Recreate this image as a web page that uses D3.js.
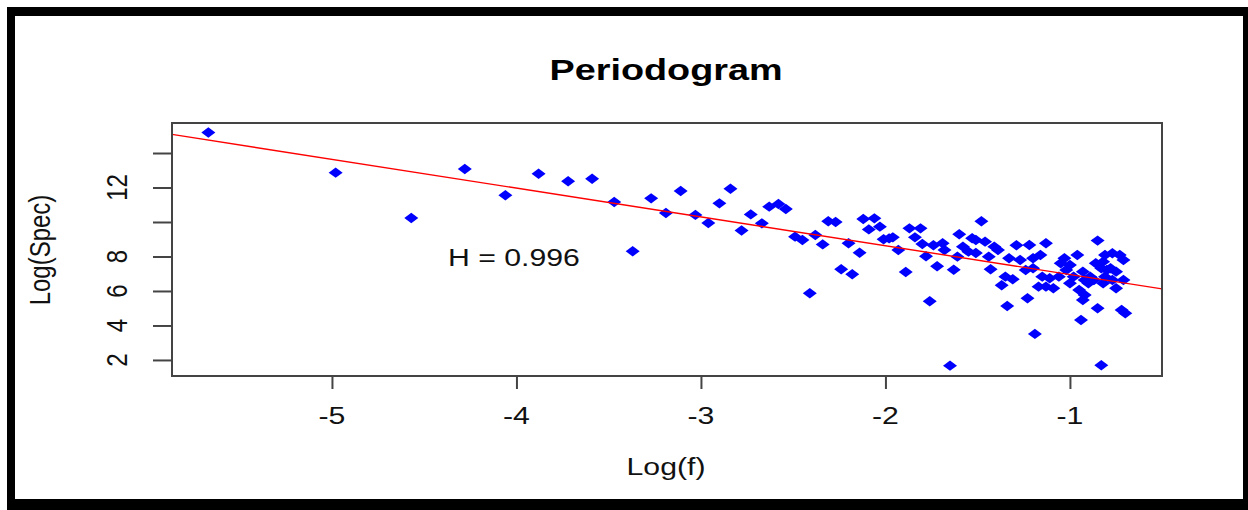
<!DOCTYPE html>
<html>
<head>
<meta charset="utf-8">
<script src="https://cdn.jsdelivr.net/npm/d3@7"></script>
<style>
  html, body { margin: 0; padding: 0; background: #fff; }
  svg { display: block; }
</style>
</head>
<body>
<svg id="chart" width="1248" height="510"></svg>
<script>
// Log frequency of each periodogram ordinate
const logF = [
  -5.67, -4.98, -4.57, -4.28, -4.06, -3.88, -3.72, -3.59, -3.47, -3.37,
  -3.27, -3.19, -3.11, -3.03, -2.96, -2.90, -2.84, -2.78, -2.73, -2.67,
  -2.63, -2.58, -2.54, -2.49, -2.45, -2.41, -2.38, -2.34, -2.31, -2.27,
  -2.24, -2.20, -2.18, -2.14, -2.12, -2.09, -2.06, -2.03, -2.01, -1.98,
  -1.96, -1.93, -1.89, -1.87, -1.84, -1.81, -1.80, -1.78, -1.76, -1.74,
  -1.72, -1.69, -1.68, -1.65, -1.63, -1.61, -1.60, -1.58, -1.55, -1.53,
  -1.51, -1.51, -1.48, -1.46, -1.44, -1.43, -1.41, -1.39, -1.37, -1.35,
  -1.34, -1.33, -1.31, -1.29, -1.27, -1.24, -1.23, -1.22, -1.20, -1.20,
  -1.19, -1.17, -1.16, -1.15, -1.13, -1.13, -1.11, -1.09, -1.06, -1.05,
  -1.03, -1.02, -1.00, -1.00, -0.98, -0.96, -0.95, -0.94, -0.93, -0.93,
  -0.92, -0.92, -0.90, -0.89, -0.87, -0.86, -0.85, -0.85, -0.83, -0.83,
  -0.82, -0.82, -0.81, -0.81, -0.80, -0.78, -0.77, -0.77, -0.75, -0.75,
  -0.73, -0.72, -0.71, -0.71, -0.70
];

// Log spectral density at each frequency
const logSpec = [
  15.19, 12.86, 10.23, 13.07, 11.55, 12.80, 12.36, 12.51, 11.16, 8.30,
  11.37, 10.52, 11.80, 10.41, 9.94, 11.08, 11.93, 9.51, 10.44, 9.92,
  10.89, 11.04, 10.75, 9.15, 8.96, 5.87, 9.25, 8.70, 10.04, 10.00,
  7.26, 8.77, 6.97, 8.22, 10.17, 9.57, 10.21, 9.73, 9.00, 9.05,
  9.11, 8.38, 7.10, 9.63, 9.11, 9.63, 8.72, 8.01, 5.40, 8.65,
  7.43, 8.77, 8.38, 1.67, 7.23, 7.99, 9.29, 8.57, 8.28, 9.06,
  8.96, 8.20, 10.04, 8.86, 7.99, 7.26, 8.57, 8.38, 6.33, 6.83,
  5.13, 7.90, 6.68, 8.65, 7.80, 7.22, 5.58, 8.67, 7.90, 7.32,
  3.51, 6.25, 8.09, 6.83, 8.77, 6.25, 6.74, 6.16, 6.83, 7.61,
  7.90, 7.22, 7.51, 6.45, 6.83, 8.09, 6.06, 4.32, 7.12, 5.48,
  6.64, 5.77, 6.45, 6.83, 6.64, 7.61, 8.92, 5.00, 7.32, 1.69,
  7.70, 6.45, 8.09, 6.83, 7.22, 7.32, 8.19, 6.64, 7.12, 6.16,
  8.09, 4.90, 7.80, 6.64, 4.71
];

const xTickValues = [-5, -4, -3, -2, -1];
const yTickValues = [2, 4, 6, 8, 10, 12, 14];
const yTickLabels = ["2", "4", "6", "8", "", "12", ""];

// Fitted regression of log spectrum on log frequency
const fitIntercept = 5.283;
const fitSlope = -1.67;
const hurstLabel = "H = 0.996";

const titleText = "Periodogram";
const xAxisTitle = "Log(f)";
const yAxisTitle = "Log(Spec)";

// ---- layout ----
const plot = { left: 172, right: 1162, top: 123, bottom: 376 };
const stretch = 1.26;               // horizontal text stretch
const ink = "#111";
const axisColor = "#444";
const fontFamily = "'Liberation Sans', Arial, Helvetica, sans-serif";

const svg = d3.select("#chart");

// frame around the figure
const frame = svg.append("g").attr("fill", "#000");
frame.append("rect").attr("x", 7).attr("y", 7).attr("width", 1241).attr("height", 9);
frame.append("rect").attr("x", 7).attr("y", 7).attr("width", 8).attr("height", 503);
frame.append("rect").attr("x", 1243).attr("y", 7).attr("width", 5).attr("height", 503);
frame.append("rect").attr("x", 7).attr("y", 499).attr("width", 1241).attr("height", 11);

const x = d3.scaleLinear().domain([-5.867, -0.501]).range([plot.left, plot.right]);
const y = d3.scaleLinear().domain([1.07, 15.74]).range([plot.bottom, plot.top]);

svg.append("defs").append("clipPath").attr("id", "plotClip")
  .append("rect")
  .attr("x", plot.left).attr("y", plot.top)
  .attr("width", plot.right - plot.left).attr("height", plot.bottom - plot.top);

// points
const diamond = "M0,-5.2L7,0L0,5.2L-7,0Z";
svg.append("g")
  .selectAll("path")
  .data(d3.zip(logF, logSpec))
  .join("path")
  .attr("d", diamond)
  .attr("transform", d => `translate(${x(d[0])},${y(d[1])})`)
  .attr("fill", "#0000ff");

// fitted line
const [x0, x1] = x.domain();
svg.append("line")
  .attr("clip-path", "url(#plotClip)")
  .attr("x1", x(x0)).attr("y1", y(fitIntercept + fitSlope * x0))
  .attr("x2", x(x1)).attr("y2", y(fitIntercept + fitSlope * x1))
  .attr("stroke", "#ff0000").attr("stroke-width", 1.4);

// plot box
svg.append("rect")
  .attr("x", plot.left).attr("y", plot.top)
  .attr("width", plot.right - plot.left).attr("height", plot.bottom - plot.top)
  .attr("fill", "none").attr("stroke", axisColor).attr("stroke-width", 2);

// x axis
const xAxis = d3.axisBottom(x).tickValues(xTickValues).tickSize(13).tickFormat(d3.format("d"));
const gx = svg.append("g").attr("transform", `translate(0,${plot.bottom})`).call(xAxis);
gx.select(".domain").remove();
gx.selectAll(".tick line").attr("stroke", axisColor).attr("stroke-width", 2);
gx.selectAll(".tick text").remove();
svg.append("g").selectAll("text")
  .data(xTickValues)
  .join("text")
  .attr("transform", d => `translate(${x(d)},424) scale(${stretch},1)`)
  .attr("text-anchor", "middle")
  .attr("font-family", fontFamily).attr("font-size", 24).attr("fill", ink)
  .text(d => d3.format("d")(d).replace("−", "-"));

// y axis
const yAxis = d3.axisLeft(y).tickValues(yTickValues).tickSize(19).tickFormat("");
const gy = svg.append("g").attr("transform", `translate(${plot.left},0)`).call(yAxis);
gy.select(".domain").remove();
gy.selectAll(".tick line").attr("stroke", axisColor).attr("stroke-width", 2);
svg.append("g").selectAll("text")
  .data(d3.zip(yTickValues, yTickLabels).filter(d => d[1] !== ""))
  .join("text")
  .attr("transform", d => `translate(127,${y(d[0])}) scale(${stretch},1) rotate(-90)`)
  .attr("text-anchor", "middle")
  .attr("font-family", fontFamily).attr("font-size", 24).attr("fill", ink)
  .text(d => d[1]);

// titles
svg.append("text")
  .attr("transform", `translate(666,80) scale(${stretch},1)`)
  .attr("text-anchor", "middle")
  .attr("font-family", fontFamily).attr("font-size", 30).attr("font-weight", "bold").attr("fill", "#000")
  .text(titleText);

svg.append("text")
  .attr("transform", `translate(666,475) scale(${stretch},1)`)
  .attr("text-anchor", "middle")
  .attr("font-family", fontFamily).attr("font-size", 24).attr("fill", ink)
  .text(xAxisTitle);

svg.append("text")
  .attr("transform", `translate(50,250) scale(${stretch},1) rotate(-90)`)
  .attr("text-anchor", "middle")
  .attr("font-family", fontFamily).attr("font-size", 24).attr("fill", ink)
  .text(yAxisTitle);

// Hurst estimate annotation
svg.append("text")
  .attr("transform", `translate(448,266) scale(${stretch},1)`)
  .attr("font-family", fontFamily).attr("font-size", 24).attr("fill", ink)
  .text(hurstLabel);
</script>
</body>
</html>
